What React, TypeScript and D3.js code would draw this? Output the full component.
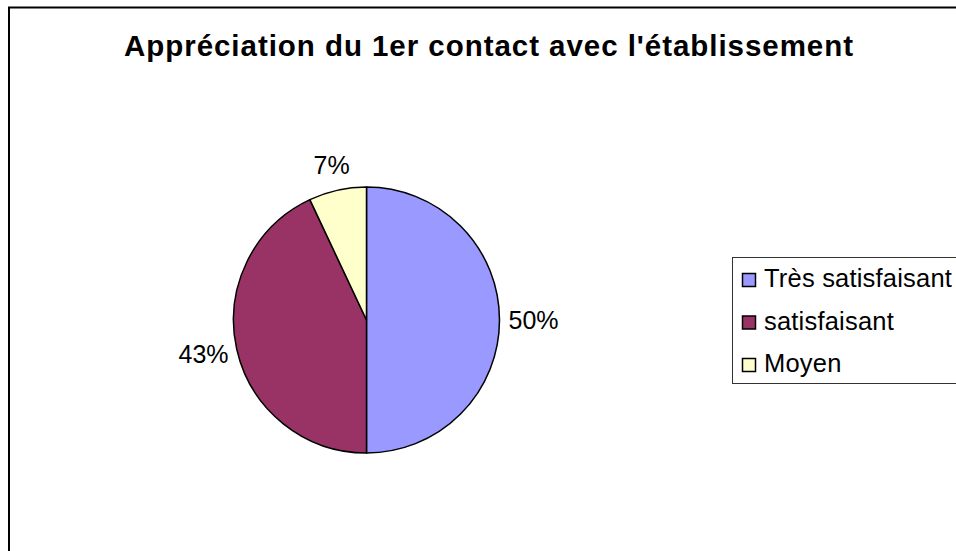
import { useEffect, useRef } from 'react';
import * as d3 from 'd3';

const categories = ['Très satisfaisant', 'satisfaisant', 'Moyen'];
const values = [50, 43, 7];
const colors = ['#9999ff', '#993366', '#ffffcc'];
const title = "Appréciation du 1er contact avec l'établissement";

const App = () => {
  const svgRef = useRef<SVGSVGElement>(null);

  useEffect(() => {
    const width = 956;
    const height = 551;
    const cx = 366.5;
    const cy = 320;
    const radius = 133;
    const font = 'Arial, "Liberation Sans", sans-serif';
    const labelSize = 25;

    const svg = d3.select(svgRef.current).attr('width', width).attr('height', height);
    svg.selectAll('*').remove();

    // chart frame (cut off at right and bottom)
    svg
      .append('rect')
      .attr('x', 9)
      .attr('y', 7.5)
      .attr('width', 1200)
      .attr('height', 800)
      .attr('fill', '#fff')
      .attr('stroke', '#000')
      .attr('stroke-width', 2);

    svg
      .append('text')
      .attr('x', 124)
      .attr('y', 56)
      .attr('textLength', 729)
      .attr('lengthAdjust', 'spacing')
      .style('font-family', font)
      .style('font-weight', 'bold')
      .style('font-size', '29.5px')
      .text(title);

    const pie = d3
      .pie<number>()
      .value((d) => d)
      .sort(null);
    const arc = d3.arc<d3.PieArcDatum<number>>().innerRadius(0).outerRadius(radius);
    const arcs = pie(values);

    const g = svg.append('g').attr('transform', `translate(${cx},${cy})`);

    g.selectAll('path')
      .data(arcs)
      .enter()
      .append('path')
      .attr('d', arc)
      .attr('fill', (d, i) => colors[i])
      .attr('stroke', '#000')
      .attr('stroke-width', 1.5)
      .attr('stroke-linejoin', 'round');

    const total = d3.sum(values);
    const ctx = document.createElement('canvas').getContext('2d');
    if (ctx) ctx.font = `${labelSize}px Arial, "Liberation Sans", sans-serif`;

    g.selectAll('text')
      .data(arcs)
      .enter()
      .append('text')
      .each(function (d) {
        const label = `${Math.round((d.data / total) * 100)}%`;
        const a = (d.startAngle + d.endAngle) / 2;
        const s = Math.sin(a);
        const c = Math.cos(a);
        const w = ctx ? ctx.measureText(label).width : label.length * 14;
        const r2 = radius + 9;
        const x = s * r2 + (s * w) / 2;
        const y = -c * r2 - c * 17;
        d3.select(this)
          .attr('x', x)
          .attr('y', y)
          .attr('dy', '0.35em')
          .attr('text-anchor', 'middle')
          .style('font-family', font)
          .style('font-size', `${labelSize}px`)
          .text(label);
      });

    // legend (cut off at right)
    const legend = svg.append('g');
    legend
      .append('rect')
      .attr('x', 732.5)
      .attr('y', 257.5)
      .attr('width', 400)
      .attr('height', 126)
      .attr('fill', '#fff')
      .attr('stroke', '#333')
      .attr('stroke-width', 1);

    const item = legend
      .selectAll('g.item')
      .data(categories)
      .enter()
      .append('g')
      .attr('class', 'item')
      .attr('transform', (d, i) => `translate(0,${i * 42.5})`);

    item
      .append('rect')
      .attr('x', 742.5)
      .attr('y', 273.5)
      .attr('width', 13)
      .attr('height', 13)
      .attr('fill', (d, i) => colors[i])
      .attr('stroke', '#000')
      .attr('stroke-width', 1.5);

    item
      .append('text')
      .attr('x', 764)
      .attr('y', 287)
      .style('font-family', font)
      .style('font-size', '25.5px')
      .style('letter-spacing', '0.2px')
      .text((d) => d);
  }, []);

  return (
    <div style={{ position: 'absolute', left: 0, top: 0 }}>
      <svg ref={svgRef} style={{ display: 'block' }}></svg>
    </div>
  );
};

export default App;
